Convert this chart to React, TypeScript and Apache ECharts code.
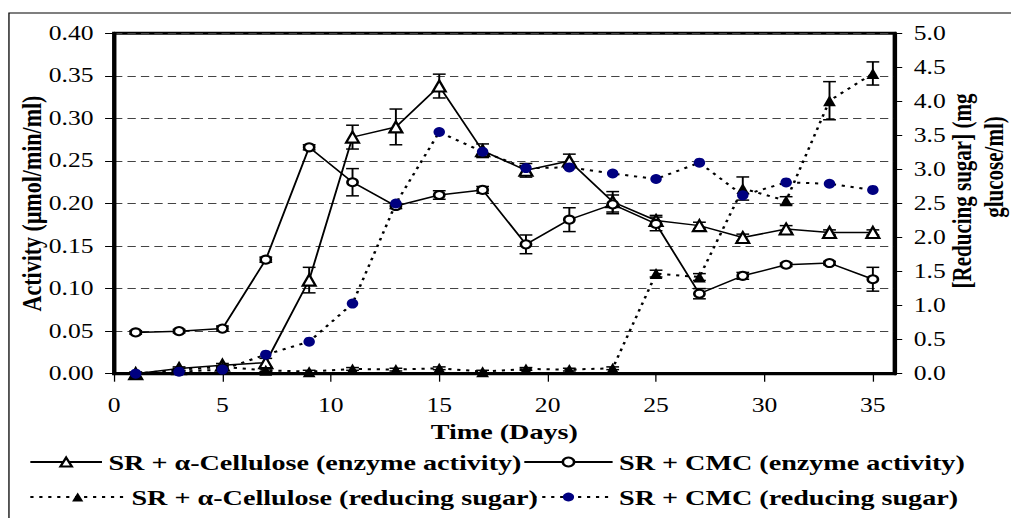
import React, { useEffect, useRef } from 'react';
import * as echarts from 'echarts';

// Sampling days
const days = [1, 3, 5, 7, 9, 11, 13, 15, 17, 19, 21, 23, 25, 27, 29, 31, 33, 35];

// Enzyme activity (µmol/min/ml), left axis
const alphaActivity = [0.0, 0.006, 0.01, 0.013, 0.11, 0.278, 0.29, 0.338, 0.262, 0.239, 0.25, 0.202, 0.18, 0.174, 0.16, 0.17, 0.166, 0.166];
const alphaActivityErr = [0.002, 0.002, 0.002, 0.005, 0.015, 0.014, 0.021, 0.014, 0.008, 0.008, 0.008, 0.012, 0.006, 0.004, 0.004, 0.004, 0.003, 0.003];
const cmcActivity = [0.0485, 0.05, 0.053, 0.134, 0.266, 0.225, 0.197, 0.21, 0.216, 0.152, 0.181, 0.199, 0.176, 0.094, 0.115, 0.128, 0.13, 0.111];
const cmcActivityErr = [0.002, 0.002, 0.003, 0.003, 0.003, 0.016, 0.003, 0.005, 0.004, 0.011, 0.014, 0.011, 0.008, 0.006, 0.004, 0.002, 0.002, 0.014];

// Reducing sugar (mg glucose/ml), right axis
const alphaSugar = [0.0, 0.06, 0.1, 0.05, 0.03, 0.07, 0.06, 0.08, 0.03, 0.07, 0.06, 0.08, 1.47, 1.42, 2.72, 2.54, 4.01, 4.41];
const alphaSugarErr = [0.02, 0.02, 0.02, 0.02, 0.02, 0.02, 0.02, 0.02, 0.02, 0.02, 0.02, 0.02, 0.05, 0.05, 0.17, 0.06, 0.28, 0.17];
const cmcSugar = [0.0, 0.03, 0.06, 0.28, 0.47, 1.03, 2.5, 3.55, 3.26, 3.02, 3.03, 2.94, 2.86, 3.1, 2.62, 2.81, 2.79, 2.7];

// Axis ranges
const timeAxis = { min: 0, max: 36, interval: 5 };
const activityAxis = { min: 0, max: 0.4, interval: 0.05 };
const sugarAxis = { min: 0, max: 5, interval: 0.5 };

const NAME_A_ACT = 'SR + α-Cellulose (enzyme activity)';
const NAME_C_ACT = 'SR + CMC (enzyme activity)';
const NAME_A_SUG = 'SR + α-Cellulose (reducing sugar)';
const NAME_C_SUG = 'SR + CMC (reducing sugar)';

const FONT = "'Liberation Serif', 'Times New Roman', serif";
const BASE_W = 790;
const STRETCH = 1011 / BASE_W;

function errorBars(name: string, values: number[], errs: number[], yAxisIndex: number) {
  return {
    type: 'custom',
    name,
    yAxisIndex,
    silent: true,
    clip: false,
    z: 3,
    data: days.map((d, i) => [d, Math.max(0, values[i] - errs[i]), values[i] + errs[i]]),
    encode: { x: 0, y: [1, 2] },
    renderItem: (_params: any, api: any) => {
      const x = api.value(0);
      const lo = api.coord([x, api.value(1)]);
      const hi = api.coord([x, api.value(2)]);
      const w = 5;
      const style = { stroke: '#000', lineWidth: 1.5, fill: 'none' };
      return {
        type: 'group',
        children: [
          { type: 'line', shape: { x1: lo[0], y1: lo[1], x2: hi[0], y2: hi[1] }, style },
          { type: 'line', shape: { x1: lo[0] - w, y1: lo[1], x2: lo[0] + w, y2: lo[1] }, style },
          { type: 'line', shape: { x1: hi[0] - w, y1: hi[1], x2: hi[0] + w, y2: hi[1] }, style },
        ],
      };
    },
  };
}

const pairs = (vals: number[]) => days.map((d, i) => [d, vals[i]]);

export default function App() {
  const ref = useRef<HTMLDivElement>(null);

  useEffect(() => {
    if (!ref.current) return;
    const chart = echarts.init(ref.current, undefined, { renderer: 'svg' });

    const dotted = [2.5, 4.5];
    const legendText = { fontFamily: FONT, fontSize: 22, fontWeight: 'bold', color: '#000' };
    const legendBase = { orient: 'horizontal', selectedMode: false, itemHeight: 11, padding: 0, textStyle: legendText };

    chart.setOption({
      animation: false,
      backgroundColor: '#fff',
      grid: {
        left: 89.1,
        right: 91.0,
        top: 33.3,
        bottom: 144.3,
        show: true,
        borderColor: '#000',
        borderWidth: 3,
        outerBoundsMode: 'none',
      },
      legend: [
        { ...legendBase, data: [NAME_A_ACT], left: 22.7, top: 451, itemWidth: 56 },
        { ...legendBase, data: [NAME_C_ACT], left: 408.7, top: 451, itemWidth: 69 },
        { ...legendBase, data: [NAME_A_SUG], left: 22.7, top: 486, itemWidth: 74 },
        { ...legendBase, data: [NAME_C_SUG], left: 408.7, top: 486, itemWidth: 69 },
      ],
      xAxis: {
        type: 'value',
        ...timeAxis,
        axisLine: { show: true, lineStyle: { color: '#000', width: 3 } },
        axisTick: { show: true, length: 8, lineStyle: { color: '#000', width: 1 } },
        axisLabel: { margin: 22, fontSize: 20, color: '#000', fontFamily: FONT, showMaxLabel: false },
        splitLine: { show: false },
        name: 'Time (Days)',
        nameLocation: 'middle',
        nameGap: 46,
        nameMoveOverlap: false,
        nameTextStyle: { fontSize: 22, fontWeight: 'bold', fontFamily: FONT, color: '#000' },
      },
      yAxis: [
        {
          type: 'value',
          position: 'left',
          ...activityAxis,
          axisLine: { show: true, lineStyle: { color: '#000', width: 3 } },
          axisTick: { show: true, length: 7, lineStyle: { color: '#000', width: 1 } },
          axisLabel: {
            margin: 16,
            fontSize: 20,
            color: '#000',
            fontFamily: FONT,
            formatter: (v: number) => v.toFixed(2),
          },
          splitLine: { show: true, lineStyle: { color: '#444', width: 1, type: [6.5, 4] } },
          name: 'Activity (μmol/min/ml)',
          nameLocation: 'middle',
          nameGap: 54,
          nameMoveOverlap: false,
          nameTextStyle: { fontSize: 22, fontWeight: 'bold', fontFamily: FONT, color: '#000' },
        },
        {
          type: 'value',
          position: 'right',
          ...sugarAxis,
          axisLine: { show: true, lineStyle: { color: '#000', width: 3 } },
          axisTick: { show: true, length: 6, lineStyle: { color: '#000', width: 1 } },
          axisLabel: {
            margin: 15,
            fontSize: 20,
            color: '#000',
            fontFamily: FONT,
            formatter: (v: number) => v.toFixed(1),
          },
          splitLine: { show: false },
        },
      ],
      graphic: [
        {
          type: 'rect',
          z: -10,
          shape: { x: 7, y: 13, width: 1000, height: 1000 },
          style: { fill: 'none', stroke: '#000', lineWidth: 1 },
          silent: true,
        },
        {
          type: 'text',
          x: 752,
          y: 191,
          rotation: Math.PI / 2,
          style: {
            text: '[Reducing sugar] (mg',
            font: `bold 21px ${FONT}`,
            fill: '#000',
            align: 'center',
            verticalAlign: 'middle',
          },
        },
        {
          type: 'text',
          x: 777,
          y: 167,
          rotation: Math.PI / 2,
          style: {
            text: 'glucose/ml)',
            font: `bold 21px ${FONT}`,
            fill: '#000',
            align: 'center',
            verticalAlign: 'middle',
          },
        },
      ],
      series: [
        errorBars('errAlphaAct', alphaActivity, alphaActivityErr, 0),
        errorBars('errCmcAct', cmcActivity, cmcActivityErr, 0),
        errorBars('errAlphaSug', alphaSugar, alphaSugarErr, 1),
        {
          type: 'line',
          name: NAME_A_ACT,
          yAxisIndex: 0,
          data: pairs(alphaActivity),
          symbol: 'emptyTriangle',
          symbolSize: [10, 11],
          lineStyle: { color: '#000', width: 1.5 },
          itemStyle: { color: '#000', borderWidth: 1.5 },
          z: 4,
        },
        {
          type: 'line',
          name: NAME_C_ACT,
          yAxisIndex: 0,
          data: pairs(cmcActivity),
          symbol: 'emptyCircle',
          symbolSize: 8,
          lineStyle: { color: '#000', width: 1.5 },
          itemStyle: { color: '#000', borderWidth: 1.5 },
          z: 4,
        },
        {
          type: 'line',
          name: NAME_A_SUG,
          yAxisIndex: 1,
          data: pairs(alphaSugar),
          symbol: 'triangle',
          symbolSize: [10, 11],
          lineStyle: { color: '#000', width: 2, type: dotted },
          itemStyle: { color: '#000' },
          z: 4,
        },
        {
          type: 'line',
          name: NAME_C_SUG,
          yAxisIndex: 1,
          data: pairs(cmcSugar),
          symbol: 'circle',
          symbolSize: [9, 10],
          lineStyle: { color: '#000', width: 2, type: dotted },
          itemStyle: { color: '#000080' },
          z: 5,
        },
      ],
    });

    return () => chart.dispose();
  }, []);

  return (
    <div
      style={{
        position: 'fixed',
        left: 0,
        top: 0,
        width: 1011,
        height: 518,
        overflow: 'hidden',
        background: '#fff',
      }}
    >
      <div
        ref={ref}
        style={{
          width: BASE_W,
          height: 518,
          transform: `scaleX(${STRETCH})`,
          transformOrigin: '0 0',
        }}
      />
    </div>
  );
}
